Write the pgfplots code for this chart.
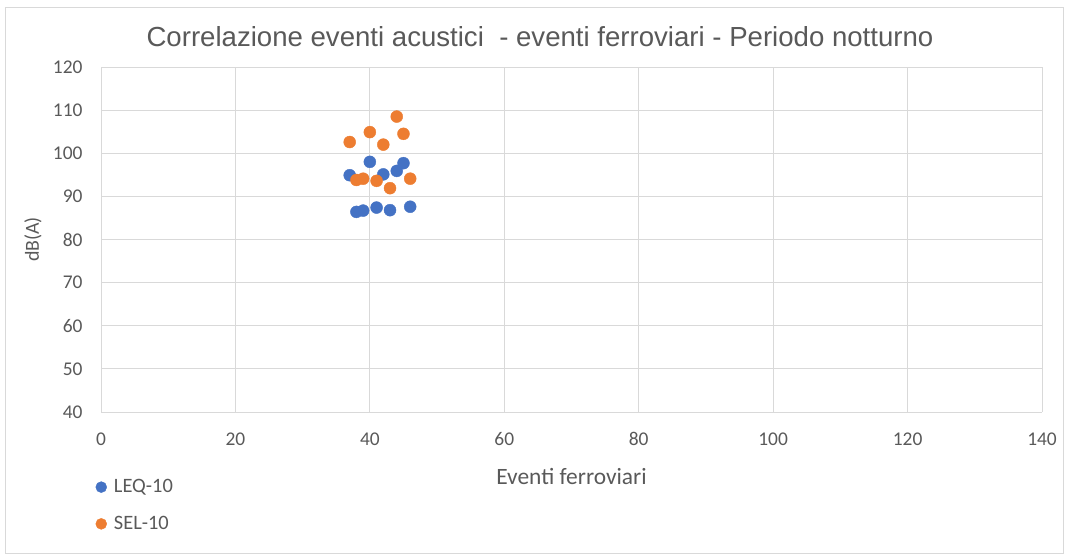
\documentclass[border=0pt]{standalone}
\usepackage{pgfplots}
\pgfplotsset{compat=1.18}
\usepackage{fontspec}
\setmainfont{Carlito}
\newfontfamily\titlefont{Liberation Sans}
\definecolor{leq}{HTML}{4472C4}
\definecolor{sel}{HTML}{ED7D31}
\definecolor{gridc}{HTML}{D9D9D9}
\definecolor{txt}{HTML}{595959}
\begin{document}
\begin{tikzpicture}[x=1bp,y=1bp]
\useasboundingbox (0,0) rectangle (1068,558);
\draw[gridc] (5,5) rectangle (1063,551);
\begin{axis}[
  at={(101bp,146bp)}, anchor=south west,
  scale only axis, width=941bp, height=345bp,
  xmin=0, xmax=140, ymin=40, ymax=120,
  xtick={0,20,...,140}, ytick={40,50,...,120},
  grid=major, grid style={gridc, line width=0.8pt},
  axis line style={draw=none},
  major tick length=0pt,
  tick label style={font=\fontsize{19.5}{22}\selectfont, text=txt},
  /pgf/number format/assume math mode=true,
  yticklabel style={xshift=-15bp},
  xticklabel style={yshift=-17bp},
  title={Correlazione eventi acustici \ - eventi ferroviari - Periodo notturno},
  title style={at={(0.4665,1.07)}, anchor=center, font=\titlefont\fontsize{27.7}{32}\selectfont, text=txt},
  xlabel={Eventi ferroviari},
  xlabel style={at={(0.5,-0.188)}, anchor=center, font=\fontsize{23.5}{28}\selectfont, text=txt},
  ylabel={dB(A)},
  ylabel style={at={(-0.0723,0.5)}, anchor=center, font=\fontsize{20}{24}\selectfont, text=txt},
  legend style={at={(-0.006,-0.19)}, anchor=north west, draw=none, fill=none,
    font=\fontsize{20.5}{24}\selectfont, text=txt, row sep=18bp, column sep=5bp, inner sep=0pt,
    nodes={inner sep=2bp}},
  legend cell align=left,
  legend image code/.code={\fill[#1] (0,0) circle (5.5bp);},
  clip=false,
]
\addplot[only marks, mark=*, mark size=6bp, color=leq, mark options={draw=leq, fill=leq}] coordinates {
(37,94.9) (38,86.4) (39,86.7) (40,98.0) (41,87.4) (42,95.1) (43,86.8) (44,95.9) (45,97.7) (46,87.6)
};
\addlegendentry{LEQ-10}
\addplot[only marks, mark=*, mark size=6bp, color=sel, mark options={draw=sel, fill=sel}] coordinates {
(37,102.6) (38,93.8) (39,94.1) (40,104.9) (41,93.6) (42,102.0) (43,91.9) (44,108.5) (45,104.5) (46,94.1)
};
\addlegendentry{SEL-10}
\end{axis}
\end{tikzpicture}
\end{document}
